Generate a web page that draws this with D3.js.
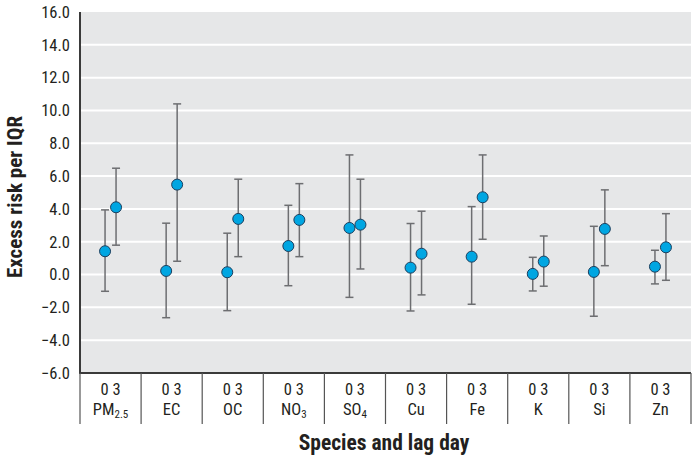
<!DOCTYPE html>
<html>
<head>
<meta charset="utf-8">
<script src="https://cdn.jsdelivr.net/npm/d3@7"></script>
<style>
  html, body { margin: 0; padding: 0; background: #fff; }
  svg { display: block; }
  text { font-family: "Liberation Sans Narrow", "Roboto Condensed", "Arial Narrow", "Liberation Sans", sans-serif; fill: #231f20; }
</style>
</head>
<body>
<svg id="chart" width="699" height="459"></svg>
<script>
// ---- data ----
const species = ["PM2.5", "EC", "OC", "NO3", "SO4", "Cu", "Fe", "K", "Si", "Zn"];
const lags = ["0", "3"];
// lag 0 estimates and 95% CI
const lag0Est   = [1.42, 0.22, 0.14, 1.74, 2.84, 0.42, 1.09, 0.04, 0.16, 0.48];
const lag0Lower = [-1.02, -2.63, -2.20, -0.68, -1.39, -2.22, -1.81, -1.00, -2.54, -0.57];
const lag0Upper = [3.94, 3.13, 2.52, 4.22, 7.29, 3.11, 4.14, 1.05, 2.94, 1.48];
// lag 3 estimates and 95% CI
const lag3Est   = [4.10, 5.48, 3.39, 3.33, 3.04, 1.27, 4.71, 0.79, 2.78, 1.66];
const lag3Lower = [1.79, 0.81, 1.09, 1.09, 0.34, -1.24, 2.15, -0.71, 0.54, -0.35];
const lag3Upper = [6.48, 10.40, 5.81, 5.54, 5.81, 3.86, 7.29, 2.35, 5.16, 3.71];
const yTicks = [-6, -4, -2, 0, 2, 4, 6, 8, 10, 12, 14, 16];
const yTitle = "Excess risk per IQR";
const xTitle = "Species and lag day";

// ---- layout ----
const svg = d3.select("#chart");
const mLeft = 80, mRight = 691, mTop = 12, mBottom = 373;

const x = d3.scaleBand().domain(species).range([mLeft, mRight]).paddingInner(0).paddingOuter(0);
const lagX = d3.scalePoint().domain(lags).range([-5.5, 5.5]);
const y = d3.scaleLinear().domain([-6, 16]).range([mBottom, mTop]);

// background
svg.append("rect").attr("x", mLeft).attr("y", mTop)
  .attr("width", mRight - mLeft).attr("height", mBottom - mTop)
  .attr("fill", "#e6e7e8");

// gridlines
svg.append("g").selectAll("line").data(yTicks.filter(d => d > -6 && d < 16)).join("line")
  .attr("x1", mLeft).attr("x2", mRight)
  .attr("y1", d => y(d)).attr("y2", d => y(d))
  .attr("stroke", "#ffffff").attr("stroke-width", 2);

// y axis
const yAxis = d3.axisLeft(y).tickValues(yTicks).tickFormat(d3.format(".1f")).tickSize(0).tickPadding(10);
const gy = svg.append("g").attr("transform", `translate(${mLeft},0)`).call(yAxis);
gy.select(".domain").remove();
gy.attr("font-family", null).attr("font-size", null);
gy.selectAll("text").style("font-size", "16.5px").attr("fill", "#231f20");

svg.append("line").attr("x1", mLeft).attr("x2", mLeft).attr("y1", mTop).attr("y2", mBottom)
  .attr("stroke", "#3a3a3a").attr("stroke-width", 2);
svg.append("line").attr("x1", mLeft - 1).attr("x2", mRight).attr("y1", mBottom).attr("y2", mBottom)
  .attr("stroke", "#3a3a3a").attr("stroke-width", 2);

// category dividers below axis
const bounds = species.map(s => x(s)).concat([x(species[species.length - 1]) + x.bandwidth()]);
svg.append("g").selectAll("line").data(bounds).join("line")
  .attr("x1", d => d).attr("x2", d => d)
  .attr("y1", mBottom).attr("y2", 424)
  .attr("stroke", "#555").attr("stroke-width", 1.2);

// lag labels
svg.append("g").selectAll("text").data(species).join("text")
  .attr("x", s => x(s) + x.bandwidth() / 2)
  .attr("y", 394.5)
  .attr("text-anchor", "middle")
  .style("font-size", "16.5px")
  .text(lags.join(" "));

// species labels with subscripts
const subMap = { "PM2.5": ["PM", "2.5"], "NO3": ["NO", "3"], "SO4": ["SO", "4"] };
species.forEach(s => {
  const t = svg.append("text")
    .attr("x", x(s) + x.bandwidth() / 2)
    .attr("y", 414.5)
    .attr("text-anchor", "middle")
    .style("font-size", "16.5px");
  if (subMap[s]) {
    t.append("tspan").text(subMap[s][0]);
    t.append("tspan").attr("dy", 3.5).style("font-size", "11px").text(subMap[s][1]);
  } else {
    t.text(s);
  }
});

// error bars and points
const rows = [];
species.forEach((s, i) => {
  rows.push({ s, lag: "0", est: lag0Est[i], lo: lag0Lower[i], hi: lag0Upper[i] });
  rows.push({ s, lag: "3", est: lag3Est[i], lo: lag3Lower[i], hi: lag3Upper[i] });
});
const cx = d => x(d.s) + x.bandwidth() / 2 + lagX(d.lag);
const cap = 4;
const eb = svg.append("g");
eb.selectAll("line.v").data(rows).join("line").attr("class", "v")
  .attr("x1", cx).attr("x2", cx)
  .attr("y1", d => y(d.lo)).attr("y2", d => y(d.hi))
  .attr("stroke", "#6d6e71").attr("stroke-width", 1.5);
eb.selectAll("line.t").data(rows).join("line").attr("class", "t")
  .attr("x1", d => cx(d) - cap).attr("x2", d => cx(d) + cap)
  .attr("y1", d => y(d.hi)).attr("y2", d => y(d.hi))
  .attr("stroke", "#6d6e71").attr("stroke-width", 1.5);
eb.selectAll("line.b").data(rows).join("line").attr("class", "b")
  .attr("x1", d => cx(d) - cap).attr("x2", d => cx(d) + cap)
  .attr("y1", d => y(d.lo)).attr("y2", d => y(d.lo))
  .attr("stroke", "#6d6e71").attr("stroke-width", 1.5);

svg.append("g").selectAll("circle").data(rows).join("circle")
  .attr("cx", cx).attr("cy", d => y(d.est)).attr("r", 5.5)
  .attr("fill", "#00a6e2").attr("stroke", "#1c3f5e").attr("stroke-width", 1);

// axis titles
svg.append("text")
  .attr("transform", `translate(22,197) rotate(-90)`)
  .attr("text-anchor", "middle")
  .style("font-size", "21px").style("font-weight", "bold")
  .text(yTitle);
svg.append("text")
  .attr("x", 384).attr("y", 450)
  .attr("text-anchor", "middle")
  .style("font-size", "21.5px").style("font-weight", "bold")
  .text(xTitle);
</script>
</body>
</html>
